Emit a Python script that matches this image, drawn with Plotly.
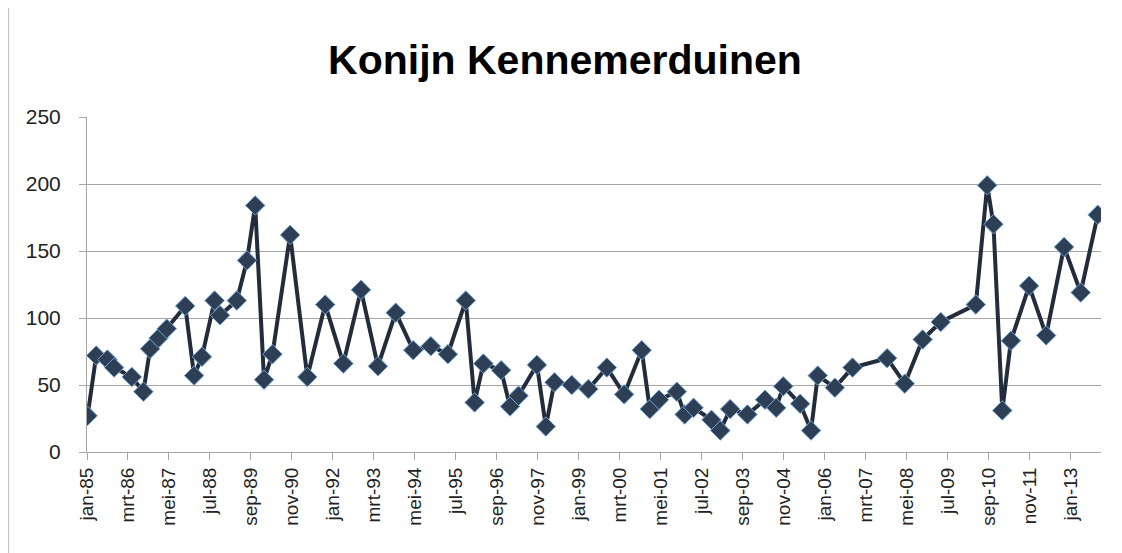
import plotly.graph_objects as go

# Survey dates and rabbit counts
dates = [
    "1985-01-07", "1985-04-07", "1985-08-01", "1985-10-10", "1986-04-12", "1986-08-10",
    "1986-10-19", "1987-01-15", "1987-04-10", "1987-10-19", "1988-01-19", "1988-04-10",
    "1988-08-19", "1988-10-15", "1989-04-07", "1989-07-22", "1989-10-15", "1990-01-15",
    "1990-04-13", "1990-10-13", "1991-04-10", "1991-10-13", "1992-04-19", "1992-10-19",
    "1993-04-13", "1993-10-15", "1994-04-15", "1994-10-15", "1995-04-10", "1995-10-13",
    "1996-01-13", "1996-04-13", "1996-10-15", "1997-01-15", "1997-04-13", "1997-10-22",
    "1998-01-22", "1998-04-22", "1998-10-19", "1999-04-10", "1999-10-19", "2000-04-15",
    "2000-10-15", "2001-01-07", "2001-04-13", "2001-10-15", "2002-01-04", "2002-04-07",
    "2002-10-10", "2003-01-10", "2003-04-22", "2003-10-19", "2004-04-19", "2004-08-13",
    "2004-10-25", "2005-04-19", "2005-08-10", "2005-10-19", "2006-04-15", "2006-10-15",
    "2007-10-10", "2008-04-10", "2008-10-13", "2009-04-19", "2010-04-19", "2010-08-15",
    "2010-10-19", "2011-01-19", "2011-04-19", "2011-10-25", "2012-04-19", "2012-10-22",
    "2013-04-13", "2013-10-07",
]
counts = [
    27, 72, 69, 63, 56, 45,
    77, 85, 92, 109, 57, 71,
    113, 102, 113, 143, 184, 54,
    73, 162, 56, 110, 66, 121,
    64, 104, 76, 79, 73, 113,
    37, 66, 61, 34, 42, 65,
    19, 52, 50, 47, 63, 43,
    76, 32, 39, 45, 28, 33,
    24, 16, 32, 28, 39, 33,
    49, 36, 16, 57, 48, 63,
    70, 51, 84, 97, 110, 199,
    170, 31, 83, 124, 87, 153,
    119, 177,
]

tick_dates = [
    "1985-01-01", "1986-03-01", "1987-05-01", "1988-07-01", "1989-09-01", "1990-11-01",
    "1992-01-01", "1993-03-01", "1994-05-01", "1995-07-01", "1996-09-01", "1997-11-01",
    "1999-01-01", "2000-03-01", "2001-05-01", "2002-07-01", "2003-09-01", "2004-11-01",
    "2006-01-01", "2007-03-01", "2008-05-01", "2009-07-01", "2010-09-01", "2011-11-01",
    "2013-01-01",
]
tick_labels = [
    "jan-85", "mrt-86", "mei-87", "jul-88", "sep-89", "nov-90",
    "jan-92", "mrt-93", "mei-94", "jul-95", "sep-96", "nov-97",
    "jan-99", "mrt-00", "mei-01", "jul-02", "sep-03", "nov-04",
    "jan-06", "mrt-07", "mei-08", "jul-09", "sep-10", "nov-11",
    "jan-13",
]
y_ticks = [0, 50, 100, 150, 200, 250]

title_text = "Konijn Kennemerduinen"

fig = go.Figure()
fig.add_trace(go.Scatter(
    x=dates, y=counts, mode="lines+markers",
    line=dict(color="#222c3b", width=4),
    marker=dict(symbol="diamond", size=15, color="#2d3e55",
                line=dict(color="#6fa3d6", width=1)),
    showlegend=False,
))

FONT = "Liberation Sans, Arial, sans-serif"
fig.update_layout(
    width=1114, height=545,
    paper_bgcolor="white", plot_bgcolor="white",
    margin=dict(l=79, r=21, t=109, b=101),
    title=dict(text="<b>" + title_text + "</b>", x=0.5, xanchor="center",
               y=0.905, yanchor="middle",
               font=dict(family=FONT, size=41, color="black")),
    font=dict(family=FONT, color="#222222"),
    xaxis=dict(
        type="date", range=["1985-01-01", "2013-11-10"], automargin=False,
        tickvals=tick_dates, ticktext=tick_labels, tickangle=-90,
        tickfont=dict(family=FONT, size=19, color="#222222"),
        showgrid=False, showline=True, linecolor="#a6a6a6", linewidth=1,
        ticks="outside", ticklen=7, tickcolor="#a6a6a6", zeroline=False,
    ),
    yaxis=dict(
        range=[0, 250], tickvals=y_ticks, automargin=False,
        tickfont=dict(family=FONT, size=21, color="#222222"),
        ticklabelstandoff=14,
        showgrid=True, gridcolor="#a6a6a6", gridwidth=1,
        showline=True, linecolor="#a6a6a6", linewidth=1,
        ticks="outside", ticklen=7, tickcolor="#a6a6a6", zeroline=False,
    ),
    shapes=[dict(type="line", xref="paper", yref="paper",
                 x0=-0.0773, x1=-0.0773, y0=-0.31, y1=1.33,
                 line=dict(color="#bfbfbf", width=1))],
)
fig.write_html("out.html")
